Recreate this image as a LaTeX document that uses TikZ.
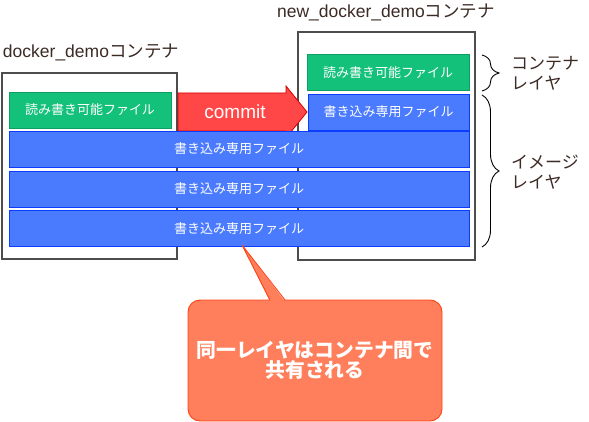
\documentclass[tikz,border=0pt]{standalone}
\usepackage{fontspec}
\setmainfont{Liberation Sans}
\newfontfamily\cjk{Noto Sans CJK JP}
\usetikzlibrary{decorations.pathreplacing}
\definecolor{txt}{HTML}{3C2A24}
\definecolor{gfill}{HTML}{14C17B}
\definecolor{gline}{HTML}{0E9F62}
\definecolor{bfill}{HTML}{4A7BFE}
\definecolor{bline}{HTML}{0A3DFF}
\definecolor{afill}{HTML}{FF4747}
\definecolor{aline}{HTML}{D40000}
\definecolor{cfill}{HTML}{FF7F5C}
\definecolor{cline}{HTML}{FF4418}
\definecolor{cont}{HTML}{4D4D4D}
\tikzset{
  container/.style={draw=cont, line width=2pt, fill=white},
  greenbox/.style={draw=gline, fill=gfill, line width=0.8pt, inner sep=0pt, text=white, font=\cjk\fontsize{13}{14}\selectfont},
  bluebox/.style={draw=bline, fill=bfill, line width=0.8pt, inner sep=0pt, text=white, font=\cjk\fontsize{13}{14}\selectfont},
  title/.style={text=txt, inner sep=0pt, font=\fontsize{17.5}{20}\selectfont},
  sidelabel/.style={text=txt, inner sep=0pt, anchor=west, align=left, font=\cjk\fontsize{17}{20}\selectfont},
  bracestyle/.style={draw=black, line width=0.9pt, decorate, decoration={brace, amplitude=17pt}},
}
\begin{document}
\begin{tikzpicture}[x=1pt,y=-1pt]
\useasboundingbox (0,0) rectangle (589,422);
% containers
\draw[container] (1.5,73) rectangle (177,259) coordinate (lc);
\draw[container] (298,32) rectangle (475,260) coordinate (rc);
\node[title] (ltitle) at (91,52) {docker\_demo{\cjk コンテナ}};
\node[title] (rtitle) at (386,12) {new\_docker\_demo{\cjk コンテナ}};
% commit arrow
\draw[fill=afill, draw=aline, line width=0.8pt] (178,93) -- (286,93) -- (286,86) -- (307,112) -- (286,138) -- (286,131) -- (178,131) -- cycle;
\node[text=white, inner sep=0pt, font=\fontsize{19}{20}\selectfont] (commit) at (235,112) {commit};
% left green
\node[greenbox, minimum width=162pt, minimum height=36pt] (lg) at (90,110) {読み書き可能ファイル};
% right green and blue
\node[greenbox, minimum width=162pt, minimum height=36pt] (rg) at (388,72.5) {読み書き可能ファイル};
\node[bluebox, minimum width=161pt, minimum height=36pt] (rb) at (388.5,112) {書き込み専用ファイル};
% shared blue layers
\node[bluebox, minimum width=460pt, minimum height=36pt] (b1) at (239,149) {書き込み専用ファイル};
\node[bluebox, minimum width=460pt, minimum height=36pt] (b2) at (239,189) {書き込み専用ファイル};
\node[bluebox, minimum width=460pt, minimum height=36pt] (b3) at (239,228.5) {書き込み専用ファイル};
% braces
\coordinate (br1a) at (482,55);
\coordinate (br1b) at (482,91);
\coordinate (br2a) at (482,95);
\coordinate (br2b) at (482,247);
\draw[bracestyle] (br1a) -- (br1b);
\draw[bracestyle] (br2a) -- (br2b);
\node[sidelabel] (l1) at (511,73) {コンテナ\\レイヤ};
\node[sidelabel] (l2) at (511,172) {イメージ\\レイヤ};
% callout
\node[draw=cline, fill=cfill, line width=0.9pt, rounded corners=12pt, minimum width=254pt, minimum height=121pt, text=white, align=center, font=\cjk\bfseries\fontsize{19.8}{20.5}\selectfont] (callout) at (315,360.5) {同一レイヤはコンテナ間で\\共有される};
\coordinate (ptip) at (242,245);
\fill[cfill] (270,301.5) -- (ptip) -- (285,301.5) -- cycle;
\draw[cline, line width=0.9pt, line join=miter] (270,300) -- (ptip) -- (285,300);
\end{tikzpicture}
\end{document}
